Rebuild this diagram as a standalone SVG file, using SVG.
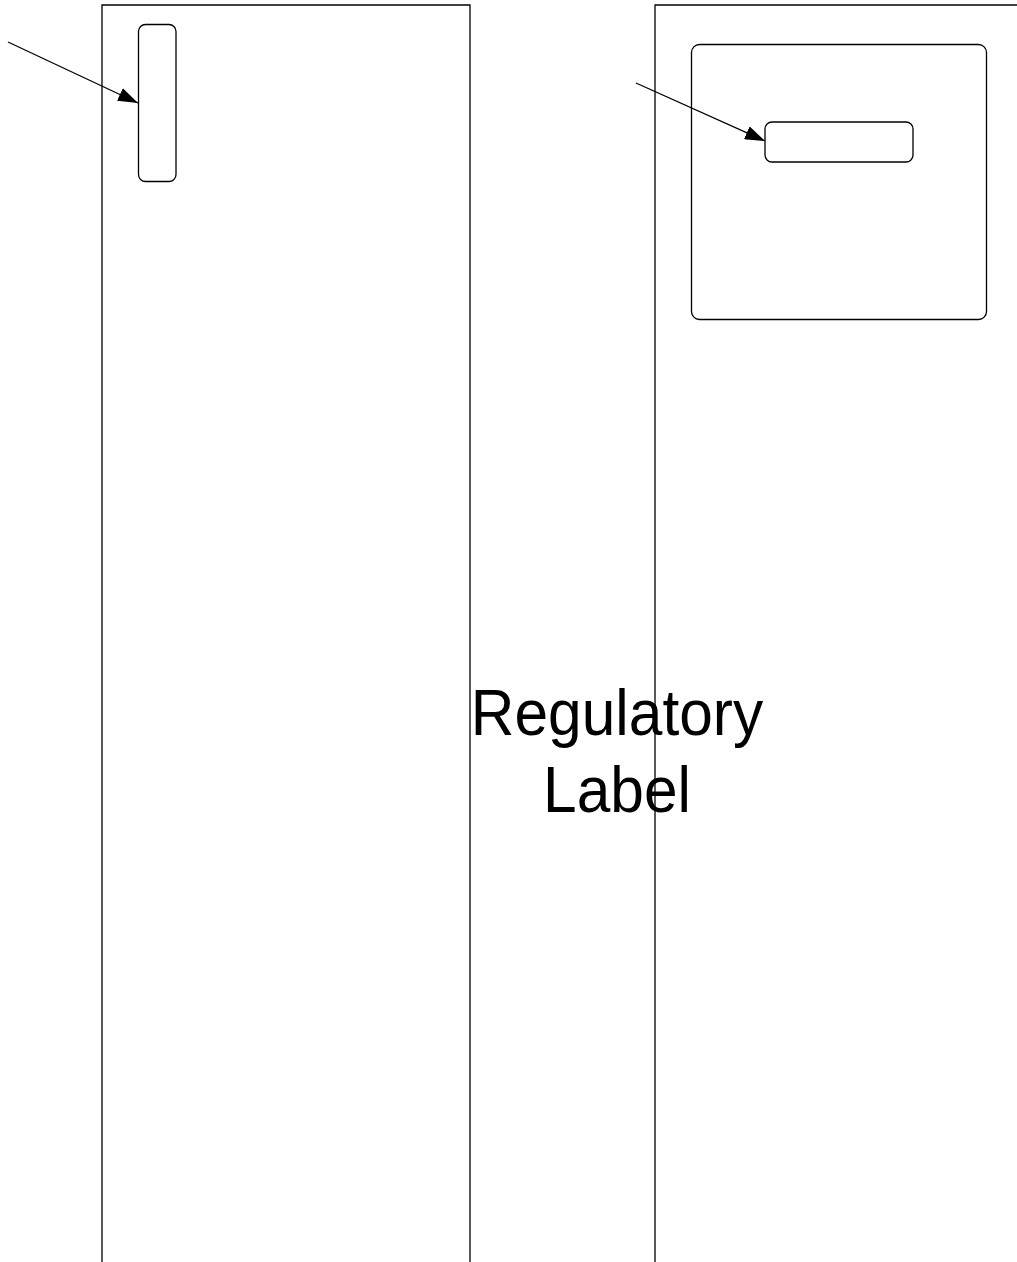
<svg xmlns="http://www.w3.org/2000/svg" width="1017" height="1262" viewBox="0 0 1017 1262">
<style>
.ln{fill:none;stroke:#000;stroke-width:1.3}
.txt{font-family:"Liberation Sans",Arial,sans-serif;font-size:65px;fill:#000;text-anchor:middle}
</style>
<defs>
<marker id="ah2" viewBox="0 0 20 14" refX="20" refY="7" markerWidth="20" markerHeight="14" orient="auto" markerUnits="userSpaceOnUse">
<path d="M0,0 L20,7 L0,14 z" fill="#000"/>
</marker>
</defs>
<rect width="1017" height="1262" fill="#fff"/>
<g id="left-panel"><path class="ln" d="M102,1262 V5 H470 V1262"/></g>
<g id="right-panel"><path class="ln" d="M655,1262 V5 H1017"/></g>
<g id="left-slot"><rect class="ln" x="138.5" y="24.5" width="37.5" height="157" rx="7"/></g>
<g id="right-box"><rect class="ln" x="691.5" y="44.5" width="295" height="275" rx="8"/></g>
<g id="right-slot"><rect class="ln" x="765" y="122" width="148" height="40" rx="7"/></g>
<g id="label" transform="translate(617,0) scale(0.93,1)"><text class="txt" x="0" y="735">Regulatory</text><text class="txt" x="0" y="812">Label</text></g>
<g id="connectors">
<line class="ln" x1="8" y1="42" x2="138" y2="103" marker-end="url(#ah2)"/>
<line class="ln" x1="636" y1="83" x2="765" y2="141" marker-end="url(#ah2)"/>
</g>
</svg>
